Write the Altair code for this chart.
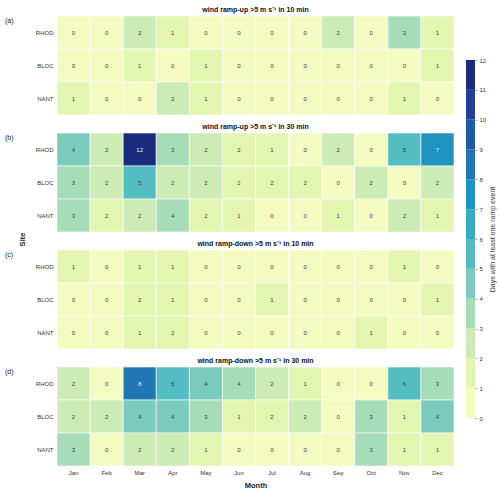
import altair as alt
import pandas as pd

months = ["Jan", "Feb", "Mar", "Apr", "May", "Jun", "Jul", "Aug", "Sep", "Oct", "Nov", "Dec"]
sites = ["RHOD", "BLOC", "NANT"]
panel_titles = [
    "wind ramp-up >5 m s\u207b\u00b9 in 10 min",
    "wind ramp-up >5 m s\u207b\u00b9 in 30 min",
    "wind ramp-down >5 m s\u207b\u00b9 in 10 min",
    "wind ramp-down >5 m s\u207b\u00b9 in 30 min",
]
panel_letters = ["(a)", "(b)", "(c)", "(d)"]
legend_title = "Days with at least one ramp event"

# (a) ramp-up 10 min
a_rhod = [0, 0, 2, 1, 0, 0, 0, 0, 2, 0, 3, 1]
a_bloc = [0, 0, 1, 0, 1, 0, 0, 0, 0, 0, 0, 1]
a_nant = [1, 0, 0, 2, 1, 0, 0, 0, 0, 0, 1, 0]
# (b) ramp-up 30 min
b_rhod = [4, 2, 12, 3, 2, 1.6, 1, 0, 2, 0, 5, 7]
b_bloc = [3, 2, 5, 2, 2, 1.6, 1.6, 1.6, 0, 2, 0, 2]
b_nant = [3, 1.6, 2, 3.6, 1.6, 1, 0, 0, 1, 0, 2, 1]
# (c) ramp-down 10 min
c_rhod = [1, 0, 1, 1, 0, 0, 0, 0, 0, 0, 1, 0]
c_bloc = [0, 0, 1.6, 1, 0, 0, 1, 0, 0, 0, 0, 1]
c_nant = [0, 0, 1, 1.6, 0, 0, 0, 0, 0, 1, 0, 0]
# (d) ramp-down 30 min
d_rhod = [2, 0, 8, 5, 4, 3.6, 2, 1, 0, 0, 5.6, 3]
d_bloc = [2, 2, 4, 4, 3, 1, 1.6, 2, 0, 3, 1, 4]
d_nant = [3, 0, 2, 2, 1, 0, 0, 0, 0, 3, 1, 1]

panels = [
    [a_rhod, a_bloc, a_nant],
    [b_rhod, b_bloc, b_nant],
    [c_rhod, c_bloc, c_nant],
    [d_rhod, d_bloc, d_nant],
]

# colour bar bins and ticks
cbar_lo = [0, 1, 2, 3, 4, 5, 6, 7, 8, 9, 10, 11]
cbar_hi = [1, 2, 3, 4, 5, 6, 7, 8, 9, 10, 11, 12]
cbar_ticks = [0, 1, 2, 3, 4, 5, 6, 7, 8, 9, 10, 11, 12]

colors = ["#f4fbc0", "#e4f5b2", "#cdebb4", "#a6dcb7", "#7acbbc", "#54bdc1",
          "#36abc3", "#2094c0", "#2076b3", "#2258a5", "#243e99", "#1a2b7d"]

FONT = "Liberation Sans"
W, H = 397, 99

color_scale = alt.Scale(type="quantize", domain=[0, 12], range=colors, nice=False)


def make_panel(i):
    rows = []
    for s, arr in zip(sites, panels[i]):
        for m, v in zip(months, arr):
            rows.append({"site": s, "month": m, "v": v})
    df = pd.DataFrame(rows)
    bottom = i == 3
    if bottom:
        x_axis = alt.Axis(title="Month", labelAngle=0, ticks=False, domain=False,
                          labelPadding=3, labelFont=FONT, labelFontSize=6, labelColor="#333333",
                          titleFont=FONT, titleFontSize=7.5, titleFontWeight="bold",
                          titleColor="#222222", titlePadding=6)
    else:
        x_axis = None
    yargs = dict(ticks=False, domain=False, labelPadding=4, labelFont=FONT,
                 labelFontSize=6, labelColor="#333333")
    if i == 1:
        y_axis = alt.Axis(title="Site", titleFont=FONT, titleFontSize=7.5, titleFontWeight="bold",
                          titleColor="#222222", titleX=-35, titleY=106, titleAngle=270,
                          titleAlign="center", titleBaseline="middle", **yargs)
    else:
        y_axis = alt.Axis(title=None, **yargs)
    base = alt.Chart(df).encode(
        x=alt.X("month:N", sort=months, axis=x_axis,
                scale=alt.Scale(paddingInner=0, paddingOuter=0)),
        y=alt.Y("site:N", sort=sites, axis=y_axis,
                scale=alt.Scale(paddingInner=0, paddingOuter=0)),
    )
    rect = base.mark_rect(stroke="white", strokeWidth=0.6).encode(
        color=alt.Color("v:Q", scale=color_scale, legend=None)
    )
    text = base.mark_text(font=FONT, fontSize=6).encode(
        text=alt.Text("v:Q", format=".0f"),
        color=alt.condition("datum.v >= 7", alt.value("#eeeeee"), alt.value("#3a3a3a")),
    )
    lab = alt.Chart(pd.DataFrame({"lab": [panel_letters[i]]})).mark_text(
        font=FONT, fontSize=7, align="left", baseline="middle", color="#222222"
    ).encode(x=alt.value(-52), y=alt.value(5), text="lab:N")
    hm = alt.layer(rect, text, lab)
    if i == 0:
        cb = alt.Chart(pd.DataFrame({"v": cbar_lo, "v2": cbar_hi})).mark_rect().encode(
            x=alt.value(409), x2=alt.value(418),
            y=alt.Y("v:Q",
                    scale=alt.Scale(domain=[0, 12], range=[402, 44], nice=False, zero=False),
                    axis=alt.Axis(orient="right", offset=21, values=cbar_ticks, format="d",
                                  tickSize=2, tickColor="#666666", tickWidth=0.6, domain=False,
                                  grid=False, labelFont=FONT, labelFontSize=6,
                                  labelColor="#333333", labelPadding=2,
                                  title=legend_title, titleFont=FONT, titleFontSize=7,
                                  titleFontWeight="normal", titleColor="#333333",
                                  titleAngle=270, titleX=17, titleY=223,
                                  titleAlign="center", titleBaseline="middle")),
            y2="v2:Q",
            color=alt.Color("v:Q", scale=color_scale, legend=None),
        )
        hm = alt.layer(hm, cb).resolve_scale(y="independent")
    return hm.properties(
        width=W, height=H,
        title=alt.Title(panel_titles[i], font=FONT, fontSize=7, fontWeight="bold",
                        color="#111111", offset=3, anchor="middle"),
    )


chart = alt.vconcat(*[make_panel(i) for i in range(4)], spacing=18, bounds="flush").resolve_scale(
    color="shared").properties(
    padding={"left": 5, "top": 5, "right": 2, "bottom": 2}
).configure_view(stroke=None)

chart.save("out.html", embed_options={"renderer": "svg", "actions": False})
